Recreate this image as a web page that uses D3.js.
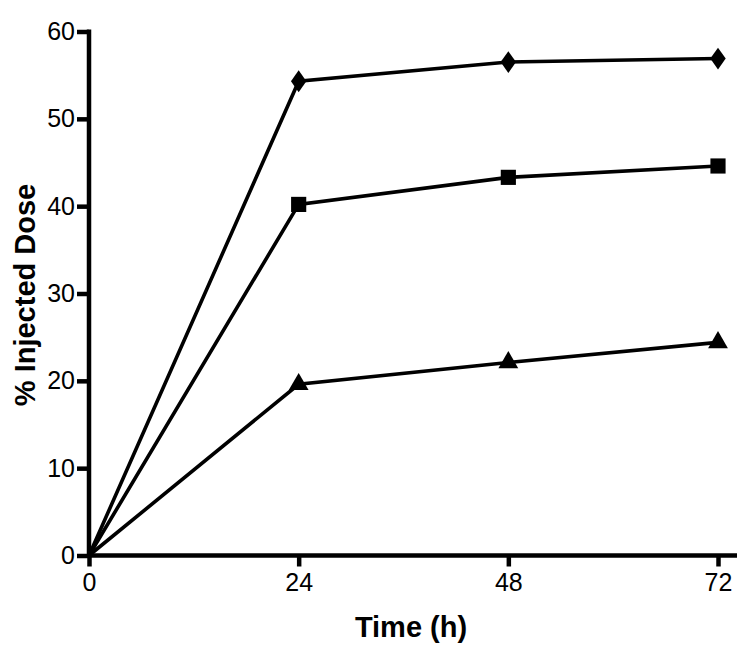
<!DOCTYPE html>
<html><head><meta charset="utf-8">
<script src="https://cdn.jsdelivr.net/npm/d3@7"></script>
<style>body{margin:0;background:#fff}svg{display:block}</style>
</head><body>
<svg id="c" width="750" height="657"></svg>
<script>
const times = [0, 24, 48, 72];
const diamondSeries = [0, 54.3, 56.5, 56.9];
const squareSeries = [0, 40.2, 43.3, 44.6];
const triangleSeries = [0, 19.6, 22.1, 24.4];
const xTicks = [0, 24, 48, 72];
const yTicks = [0, 10, 20, 30, 40, 50, 60];

const svg = d3.select("#c");
const x = d3.scaleLinear().domain([0, 72]).range([89, 718]);
const y = d3.scaleLinear().domain([0, 60]).range([555.5, 31.5]);
const font = "Liberation Sans, Arial, sans-serif";

// axes
const xAxis = svg.append("g").attr("transform", "translate(0,555.5)")
  .call(d3.axisBottom(x).tickValues(xTicks).tickSize(11).tickPadding(7).tickSizeOuter(0));
xAxis.select(".domain").attr("d", `M${x(0)},0H737`);
const yAxis = svg.append("g").attr("transform", "translate(89,0)")
  .call(d3.axisLeft(y).tickValues(yTicks).tickSize(12).tickPadding(2).tickSizeOuter(0));
[xAxis, yAxis].forEach(g => {
  g.attr("font-size", null).attr("font-family", null);
  g.selectAll(".domain").attr("stroke", "#000").attr("stroke-width", 4.5);
  g.selectAll(".tick line").attr("stroke", "#000").attr("stroke-width", 4.5);
  g.selectAll(".tick text").attr("font-family", font).attr("font-size", 25).attr("fill", "#000");
});
yAxis.select(".domain").attr("d", `M0,${y(0)+2}V${y(60)-2}`);

// series
const series = [
  {vals: diamondSeries, sym: d3.symbolDiamond, size: 170},
  {vals: squareSeries, sym: d3.symbolSquare, size: 230},
  {vals: triangleSeries, sym: d3.symbolTriangle, size: 170}
];
const line = d3.line().x((d, i) => x(times[i])).y(d => y(d));
series.forEach(s => {
  svg.append("path").attr("d", line(s.vals)).attr("fill", "none")
    .attr("stroke", "#000").attr("stroke-width", 3.6).attr("stroke-linejoin", "miter");
  svg.selectAll(null).data(s.vals.slice(1)).enter().append("path")
    .attr("transform", (d, i) => `translate(${x(times[i+1])},${y(d)})` + (s.sym === d3.symbolDiamond ? " scale(1.1,0.9)" : ""))
    .attr("d", d3.symbol().type(s.sym).size(s.size)).attr("fill", "#000");
});

// titles
svg.append("text").attr("x", 411).attr("y", 637).attr("text-anchor", "middle")
  .attr("font-family", font).attr("font-weight", "bold").attr("font-size", 29).text("Time (h)");
svg.append("text").attr("transform", "translate(35,295) rotate(-90)").attr("text-anchor", "middle")
  .attr("font-family", font).attr("font-weight", "bold").attr("font-size", 29).text("% Injected Dose");
</script>
</body></html>
